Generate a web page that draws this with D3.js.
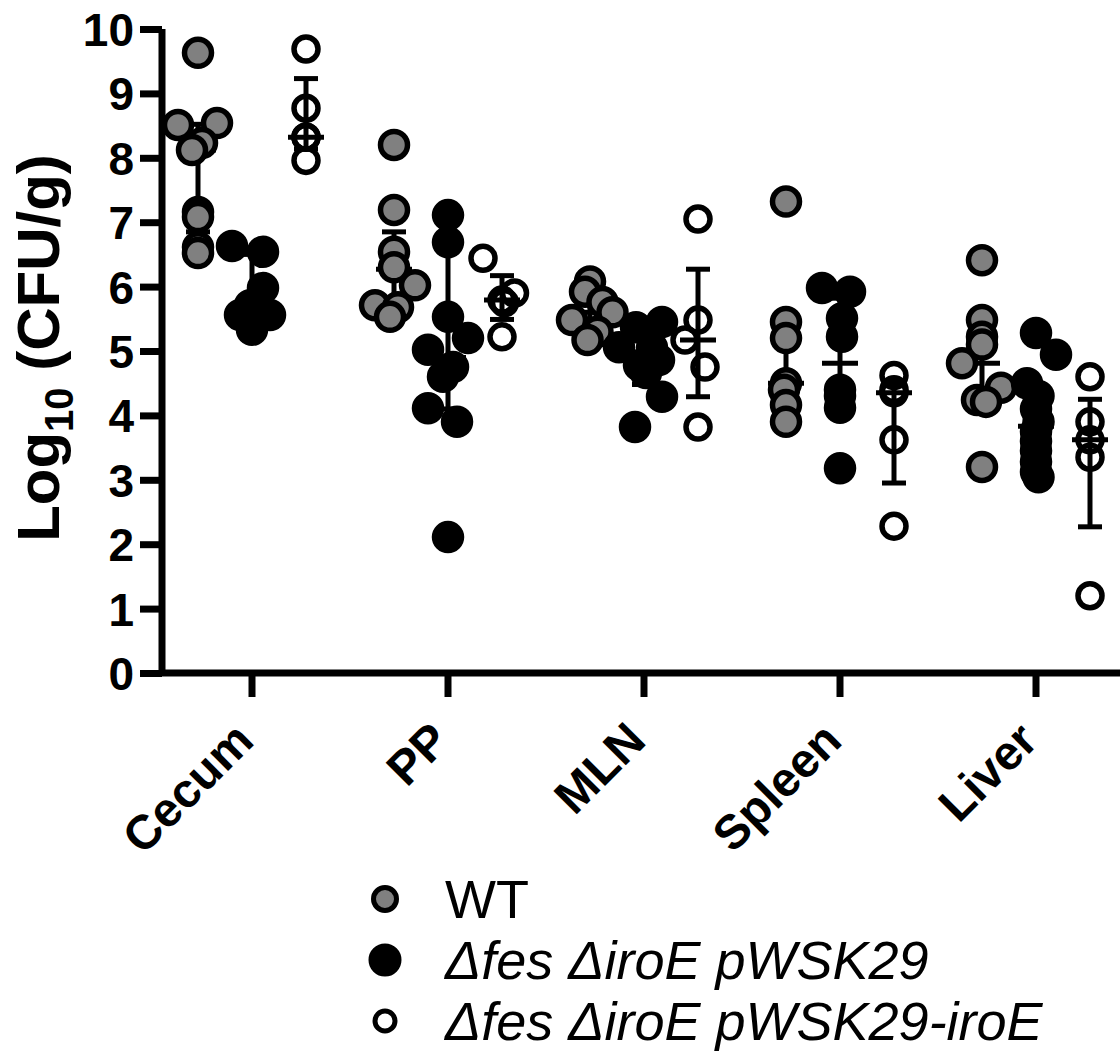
<!DOCTYPE html>
<html>
<head>
<meta charset="utf-8">
<script src="https://cdn.jsdelivr.net/npm/d3@7"></script>
<style>
  html, body { margin: 0; padding: 0; background: #fff; }
  svg { display: block; font-family: "Liberation Sans", Arial, sans-serif; }
</style>
</head>
<body>
<svg id="chart" width="1120" height="1055"></svg>
<script>
// Categories and series
const categories = ['Cecum', 'PP', 'MLN', 'Spleen', 'Liver'];
const seriesNames = ['WT', 'Δfes ΔiroE pWSK29', 'Δfes ΔiroE pWSK29-iroE'];
const yTicks = [0, 1, 2, 3, 4, 5, 6, 7, 8, 9, 10];

// Points per category: [log10 CFU/g, horizontal jitter (-1..1)]
const wtPoints = [
    [[9.63, 0], [8.54, 0.76], [8.51, -0.8], [8.23, 0.16], [8.12, -0.24], [7.16, 0], [7.08, 0], [6.61, 0], [6.52, 0]],
    [[8.2, 0], [7.19, 0], [6.54, 0], [6.3, 0], [6.02, 0.84], [5.71, -0.76], [5.68, 0.16], [5.53, -0.16]],
    [[6.08, 0], [5.92, -0.2], [5.76, 0.5], [5.6, 0.9], [5.48, -0.72], [5.3, 0.3], [5.17, -0.1]],
    [[7.32, 0], [5.45, 0], [5.2, 0], [4.5, 0], [4.4, -0.08], [4.16, 0], [3.9, 0]],
    [[6.41, 0], [5.48, 0], [5.22, 0], [5.1, 0], [4.81, -0.8], [4.43, 0.76], [4.24, -0.2], [4.21, 0.16], [3.2, 0]]
];
const mutPoints = [
    [[6.63, -0.8], [6.54, 0.44], [5.98, 0.44], [5.71, -0.08], [5.56, -0.48], [5.56, 0.72], [5.48, 0.16], [5.33, 0]],
    [[7.11, 0], [6.69, 0], [5.53, 0], [5.2, 0.8], [5.02, -0.8], [4.75, 0.2], [4.6, -0.2], [4.11, -0.8], [3.9, 0.36], [2.11, 0]],
    [[5.45, 0.72], [5.37, -0.32], [5.06, -1.0], [5.05, 0.32], [4.86, 0.6], [4.78, -0.2], [4.66, 0.08], [4.29, 0.72], [3.82, -0.36]],
    [[5.98, -0.72], [5.92, 0.4], [5.51, 0.08], [5.22, 0.08], [4.4, 0], [4.3, 0], [4.12, 0], [3.18, 0]],
    [[5.28, 0], [4.94, 0.8], [4.5, -0.36], [4.3, 0.1], [4.1, 0], [3.9, 0.1], [3.75, 0], [3.6, 0], [3.45, 0], [3.28, 0], [3.12, 0], [3.04, 0.1]]
];
const compPoints = [
    [[9.69, 0], [8.77, 0], [8.32, 0], [8.32, 0], [7.96, 0]],
    [[6.44, -0.76], [5.9, 0.5], [5.79, 0], [5.75, 0.1], [5.22, 0]],
    [[7.05, 0], [5.48, 0], [5.17, -0.52], [4.75, 0.28], [3.82, 0]],
    [[4.62, 0], [4.4, 0], [4.35, 0], [3.62, 0], [2.28, 0]],
    [[4.6, 0], [3.9, 0], [3.62, 0], [3.35, 0], [1.2, 0]]
];

// Median with interquartile range, per category
const wtMedian = [8.12, 6.27, 5.6, 4.5, 4.81];
const wtQ1 = [6.85, 5.69, 5.3, 4.16, 4.22];
const wtQ3 = [8.52, 6.85, 5.92, 5.45, 5.35];
const mutMedian = [5.64, 4.9, 4.86, 4.81, 3.83];
const mutQ1 = [5.5, 4.1, 4.48, 4.17, 3.32];
const mutQ3 = [6.5, 6.6, 5.2, 5.82, 4.45];
const compMedian = [8.32, 5.79, 5.17, 4.35, 3.62];
const compQ1 = [8.14, 5.49, 4.29, 2.95, 2.27];
const compQ3 = [9.23, 6.17, 6.27, 4.51, 4.25];

const series = [
    { name: seriesNames[0], points: wtPoints, median: wtMedian, q1: wtQ1, q3: wtQ3, fill: '#808080', r: 13.5 },
    { name: seriesNames[1], points: mutPoints, median: mutMedian, q1: mutQ1, q3: mutQ3, fill: '#000', r: 13.5 },
    { name: seriesNames[2], points: compPoints, median: compMedian, q1: compQ1, q3: compQ3, fill: 'none', r: 12 }
];

const svg = d3.select('#chart');
const margin = { top: 29, left: 162, bottom: 673 };

// Scales
const x = d3.scaleBand().domain(categories).range([154, 1134]).padding(0);
const sub = d3.scalePoint().domain(seriesNames).range([-54, 54]);
const jitter = d3.scaleLinear().domain([-1, 1]).range([-25, 25]);
const y = d3.scaleLinear().domain([0, 10]).range([margin.bottom, margin.top]);
const cx = (cat, name) => x(cat) + x.bandwidth() / 2 + sub(name);

// Y axis
const yAxis = svg.append('g')
    .attr('transform', `translate(${margin.left},0)`)
    .call(d3.axisLeft(y).tickValues(yTicks).tickSize(22).tickPadding(6).tickFormat(d3.format('d')));
yAxis.select('.domain').attr('d', `M0,${y(10)}V${y(0) + 3}`).attr('stroke', '#000').attr('stroke-width', 7);
yAxis.selectAll('.tick line').attr('stroke', '#000').attr('stroke-width', 7);
yAxis.selectAll('.tick text')
    .attr('fill', '#000')
    .style('font-size', '46px')
    .style('font-weight', 'bold')
    .attr('dy', '0.36em');

// X axis
const xAxis = svg.append('g')
    .attr('transform', `translate(0,${y(0)})`)
    .call(d3.axisBottom(x).tickSize(24).tickPadding(0));
xAxis.select('.domain').attr('d', `M${margin.left - 3},0H1120`).attr('stroke', '#000').attr('stroke-width', 7);
xAxis.selectAll('.tick line').attr('stroke', '#000').attr('stroke-width', 7);
xAxis.selectAll('.tick text')
    .attr('fill', '#000')
    .attr('y', 0)
    .attr('dy', 0)
    .style('font-size', '48px')
    .style('font-weight', 'bold')
    .style('text-anchor', 'end')
    .attr('transform', 'translate(4,70) rotate(-45)');

// Y axis title
const title = svg.append('text')
    .attr('transform', 'translate(59,348) rotate(-90)')
    .attr('text-anchor', 'middle')
    .style('font-size', '60px')
    .style('font-weight', 'bold');
title.append('tspan').text('Log');
title.append('tspan').attr('dy', 14).style('font-size', '40px').text('10');
title.append('tspan').attr('dy', -14).text(' (CFU/g)');

// Error bars then points, series by series
series.forEach(s => {
    const g = svg.append('g');
    categories.forEach((cat, i) => {
        const xc = cx(cat, s.name);
        g.append('line')
            .attr('x1', xc).attr('x2', xc)
            .attr('y1', y(s.q1[i])).attr('y2', y(s.q3[i]))
            .attr('stroke', '#000').attr('stroke-width', 5);
        [s.q1[i], s.q3[i]].forEach(v => {
            g.append('line')
                .attr('x1', xc - 12).attr('x2', xc + 12)
                .attr('y1', y(v)).attr('y2', y(v))
                .attr('stroke', '#000').attr('stroke-width', 5);
        });
        g.append('line')
            .attr('x1', xc - 18).attr('x2', xc + 18)
            .attr('y1', y(s.median[i])).attr('y2', y(s.median[i]))
            .attr('stroke', '#000').attr('stroke-width', 5);
    });
    categories.forEach((cat, i) => {
        g.selectAll(null)
            .data(s.points[i])
            .enter()
            .append('circle')
            .attr('cx', d => cx(cat, s.name) + jitter(d[1]))
            .attr('cy', d => y(d[0]))
            .attr('r', s.r)
            .attr('fill', s.fill)
            .attr('stroke', '#000')
            .attr('stroke-width', 5.5);
    });
});

// Legend
const legend = svg.append('g').attr('transform', 'translate(385,899)');
const legendR = [11.5, 14, 10];
series.forEach((s, i) => {
    const row = legend.append('g').attr('transform', `translate(0,${i * 61})`);
    row.append('circle')
        .attr('r', legendR[i])
        .attr('fill', s.fill === 'none' ? '#fff' : s.fill)
        .attr('stroke', '#000')
        .attr('stroke-width', 5);
    row.append('text')
        .attr('x', 60)
        .attr('dy', '0.36em')
        .style('font-size', '54px')
        .style('font-style', i === 0 ? 'normal' : 'italic')
        .text(s.name);
});
</script>
</body>
</html>
